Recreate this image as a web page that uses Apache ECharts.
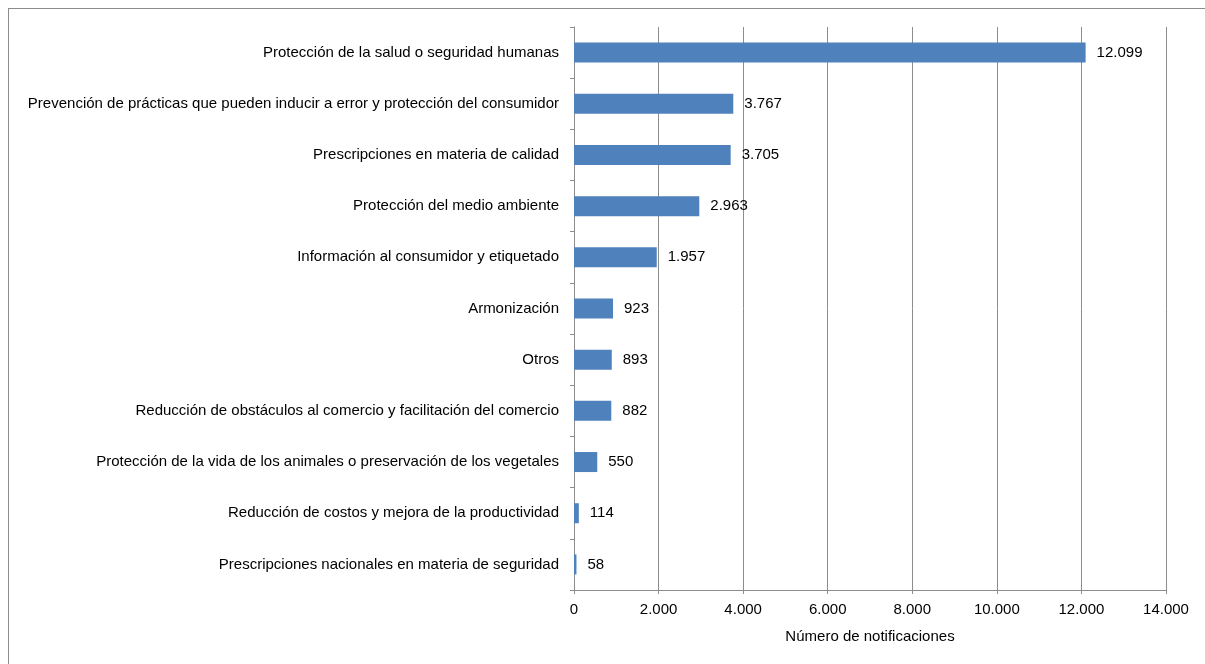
<!DOCTYPE html>
<html>
<head>
<meta charset="utf-8">
<script src="https://cdn.jsdelivr.net/npm/echarts@6/dist/echarts.min.js"></script>
<style>
  html, body { margin: 0; padding: 0; background: #fff; overflow: hidden; }
  .frame {
    position: absolute; left: 8px; top: 8px; width: 1400px; height: 800px;
    border: 1px solid #8c8c8c; box-sizing: border-box;
  }
  #chart { position: absolute; left: 0; top: 0; width: 1205px; height: 664px; }
</style>
</head>
<body>
<div class="frame"></div>
<div id="chart"></div>
<script>
// categories top to bottom
const categories = [
  'Protección de la salud o seguridad humanas',
  'Prevención de prácticas que pueden inducir a error y protección del consumidor',
  'Prescripciones en materia de calidad',
  'Protección del medio ambiente',
  'Información al consumidor y etiquetado',
  'Armonización',
  'Otros',
  'Reducción de obstáculos al comercio y facilitación del comercio',
  'Protección de la vida de los animales o preservación de los vegetales',
  'Reducción de costos y mejora de la productividad',
  'Prescripciones nacionales en materia de seguridad'
]
const notificaciones = [12099, 3767, 3705, 2963, 1957, 923, 893, 882, 550, 114, 58]
const xTicks = { min: 0, max: 14000, interval: 2000 }

const fmt = v => String(v).replace(/\B(?=(\d{3})+(?!\d))/g, '.')

const chart = echarts.init(document.getElementById('chart'), null, { renderer: 'canvas' })
const font = "'Liberation Sans', 'DejaVu Sans', sans-serif"

chart.setOption({
  animation: false,
  textStyle: { fontFamily: font },
  grid: { left: 574, right: 39, top: 27, bottom: 74 },
  xAxis: {
    type: 'value',
    min: xTicks.min, max: xTicks.max, interval: xTicks.interval,
    name: 'Número de notificaciones',
    nameLocation: 'middle',
    nameGap: 39,
    nameTextStyle: { color: '#000', fontSize: 15, fontFamily: font, letterSpacing: 0.4 },
    axisLine: { show: true, lineStyle: { color: '#8c8c8c', width: 1 } },
    axisTick: { show: true, length: 4, lineStyle: { color: '#8c8c8c' } },
    axisLabel: { color: '#000', fontSize: 15, margin: 12, formatter: fmt },
    splitLine: { show: true, lineStyle: { color: '#8c8c8c', width: 1 } }
  },
  yAxis: {
    type: 'category',
    data: categories,
    inverse: true,
    axisLine: { show: true, lineStyle: { color: '#8c8c8c', width: 1 } },
    axisTick: { show: true, length: 4, lineStyle: { color: '#8c8c8c' } },
    axisLabel: { color: '#000', fontSize: 15, margin: 15 },
    splitLine: { show: false }
  },
  series: [{
    type: 'bar',
    data: notificaciones,
    barWidth: 20,
    itemStyle: { color: '#4F81BD' },
    label: {
      show: true, position: 'right', distance: 11,
      color: '#000', fontSize: 15, fontFamily: font,
      formatter: p => fmt(p.value)
    }
  }]
})
</script>
</body>
</html>
